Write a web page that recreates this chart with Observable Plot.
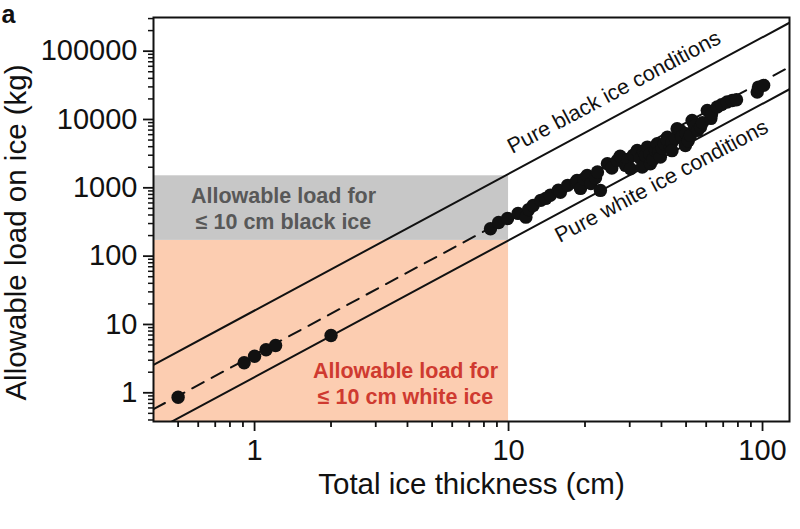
<!DOCTYPE html>
<html>
<head>
<meta charset="utf-8">
<script src="https://cdn.jsdelivr.net/npm/d3@7"></script>
<script src="https://cdn.jsdelivr.net/npm/@observablehq/plot@0.6"></script>
<style>
  html, body { margin: 0; padding: 0; background: #fff; }
</style>
</head>
<body>
<div id="chart"></div>
<script>
// Measurements: total ice thickness (cm) and allowable load (kg)
const thickness = [0.5, 0.91, 1.0, 1.11, 1.21, 2.0,
  8.49, 9.14, 9.91, 10.9, 11.7, 12.0, 12.5, 13.4, 14.0, 14.6, 15.7, 16.0, 17.1, 18.4, 18.6, 19.2,
  19.8, 20.4, 21.1, 22.0, 22.4, 23.0, 24.5, 25.5, 26.8, 27.5, 28.9, 29.5, 30.2, 31.0, 32.1, 33.0,
  33.6, 34.0, 34.6, 35.2, 36.0, 36.2, 37.0, 37.9, 38.5, 39.0, 39.6, 40.3, 41.0, 42.2, 42.2, 43.4,
  44.0, 44.0, 45.4, 46.1, 47.5, 48.0, 49.7, 50.0, 51.0, 52.0, 52.8, 54.0, 55.5, 57.0, 58.0,
  60.6, 62.6, 63.0, 66.3, 69.0, 72.6, 76.0, 79.0, 95.3, 96.4, 101];
const load = [0.86, 2.75, 3.43, 4.26, 4.93, 6.9,
  252, 311, 356, 422, 372, 480, 552, 656, 700, 777, 919, 859, 1087, 1200, 1283, 980,
  1350, 1513, 1156, 1400, 1700, 916, 2254, 1950, 2518, 2900, 2128, 2600, 1905, 3000, 3530, 2700,
  2010, 3400, 2980, 3944, 3100, 2254, 2600, 3530, 4425, 3300, 2813, 3780, 4400, 5521, 4940, 3944,
  4700, 3500, 5290, 7330, 6920, 5600, 4170, 6200, 4900, 5850, 9700, 8000, 6920, 7740, 9000,
  13600, 10370, 12000, 15200, 16500, 18000, 19000, 19500, 25200, 29800, 31600];

// Reference lines (end points)
const lineThickness = [0.4, 128];
const blackIceLoad = [2.56, 262000];
const whiteIceLoad = [0.272, 27850];
const fitLoad = [0.576, 59000];

// Shaded zones: thickness <= 10 cm
const zoneName = ["white", "black"];
const zoneX1 = [0.4, 0.4];
const zoneX2 = [10, 10];
const zoneY1 = [0.38, 170];
const zoneY2 = [170, 1500];

// Axis ticks
const xMajor = [1, 10, 100];
const xMinor = [0.5, 0.6, 0.7, 0.8, 0.9, 2, 3, 4, 5, 6, 7, 8, 9, 20, 30, 40, 50, 60, 70, 80, 90];
const yMajor = [1, 10, 100, 1000, 10000, 100000];
const yMinor = [0.4, 0.5, 0.6, 0.7, 0.8, 0.9,
  2, 3, 4, 5, 6, 7, 8, 9, 20, 30, 40, 50, 60, 70, 80, 90,
  200, 300, 400, 500, 600, 700, 800, 900, 2000, 3000, 4000, 5000, 6000, 7000, 8000, 9000,
  20000, 30000, 40000, 50000, 60000, 70000, 80000, 90000, 200000, 300000];

// Annotations
const blackLabel = {text: "Pure black ice conditions", h: 26, load: 10800};
const whiteLabel = {text: "Pure white ice conditions", h: 40, load: 2720};
const zoneLabels = [
  {text: "Allowable load for\n≤ 10 cm black ice", h: 1.3, load: 505, zone: "black"},
  {text: "Allowable load for\n≤ 10 cm white ice", h: 3.93, load: 1.4, zone: "white"}
];

const points = thickness.map((h, i) => ({h, load: load[i]}));
const zones = zoneName.map((z, i) => ({z, x1: zoneX1[i], x2: zoneX2[i], y1: zoneY1[i], y2: zoneY2[i]}));
const mkLine = (ys) => lineThickness.map((h, i) => ({h, load: ys[i]}));

const zoneFill = {white: "#fccdb1", black: "#c7c7c7"};
const zoneText = {white: "#cf3a30", black: "#585858"};

const chart = Plot.plot({
  width: 800,
  height: 529,
  marginLeft: 153,
  marginRight: 11,
  marginTop: 17,
  marginBottom: 108,
  style: {fontFamily: "'Liberation Sans', Arial, Helvetica, sans-serif", background: "#fff", color: "#111"},
  x: {type: "log", domain: [0.4, 127.7]},
  y: {type: "log", domain: [0.38, 311000]},
  marks: [
    Plot.rect(zones, {x1: "x1", x2: "x2", y1: "y1", y2: "y2", fill: d => zoneFill[d.z]}),
    Plot.line(mkLine(blackIceLoad), {x: "h", y: "load", stroke: "#111", strokeWidth: 2, clip: true}),
    Plot.line(mkLine(whiteIceLoad), {x: "h", y: "load", stroke: "#111", strokeWidth: 2, clip: true}),
    Plot.line(mkLine(fitLoad), {x: "h", y: "load", stroke: "#111", strokeWidth: 2, strokeDasharray: "13,9", clip: true}),
    Plot.dot(points, {x: "h", y: "load", r: 6.7, fill: "#111", stroke: "none"}),
    Plot.text(zoneLabels, {x: "h", y: "load", text: "text", fill: d => zoneText[d.zone], fontWeight: "bold", fontSize: 21.5, lineHeight: 1.21, lineAnchor: "middle", textAnchor: "middle"}),
    Plot.text([blackLabel], {x: "h", y: "load", text: "text", rotate: -28, fontSize: 21.5, fill: "#111", dy: -25, lineAnchor: "middle", textAnchor: "middle"}),
    Plot.text([whiteLabel], {x: "h", y: "load", text: "text", rotate: -28, fontSize: 21.5, fill: "#111", dy: 23, lineAnchor: "middle", textAnchor: "middle"}),
    Plot.axisX({ticks: xMajor, tickSize: 10, tickPadding: 8, tickFormat: d => String(d), fontSize: 29, strokeWidth: 1.8, label: null}),
    Plot.axisX({ticks: xMinor, tickSize: 6, tickFormat: () => "", strokeWidth: 1.8, label: null}),
    Plot.axisY({ticks: yMajor, tickSize: 10, tickPadding: 6, tickFormat: d => String(d), fontSize: 29, strokeWidth: 1.8, label: null}),
    Plot.axisY({ticks: yMinor, tickSize: 5, tickFormat: () => "", strokeWidth: 1.5, label: null}),
    Plot.text(["Total ice thickness (cm)"], {frameAnchor: "bottom", textAnchor: "middle", lineAnchor: "bottom", dy: 72, fontSize: 29.5, fill: "#111"}),
    Plot.text(["Allowable load on ice (kg)"], {frameAnchor: "left", textAnchor: "middle", lineAnchor: "bottom", rotate: -90, dx: -128, dy: 13, fontSize: 29.5, fill: "#111"}),
    Plot.text(["a"], {frameAnchor: "top-left", textAnchor: "start", lineAnchor: "bottom", dx: -152, dy: 5, fontSize: 25, fontWeight: "bold", fill: "#111"}),
    Plot.frame({stroke: "#111", strokeWidth: 2})
  ]
});
document.getElementById("chart").appendChild(chart);
</script>
</body>
</html>
